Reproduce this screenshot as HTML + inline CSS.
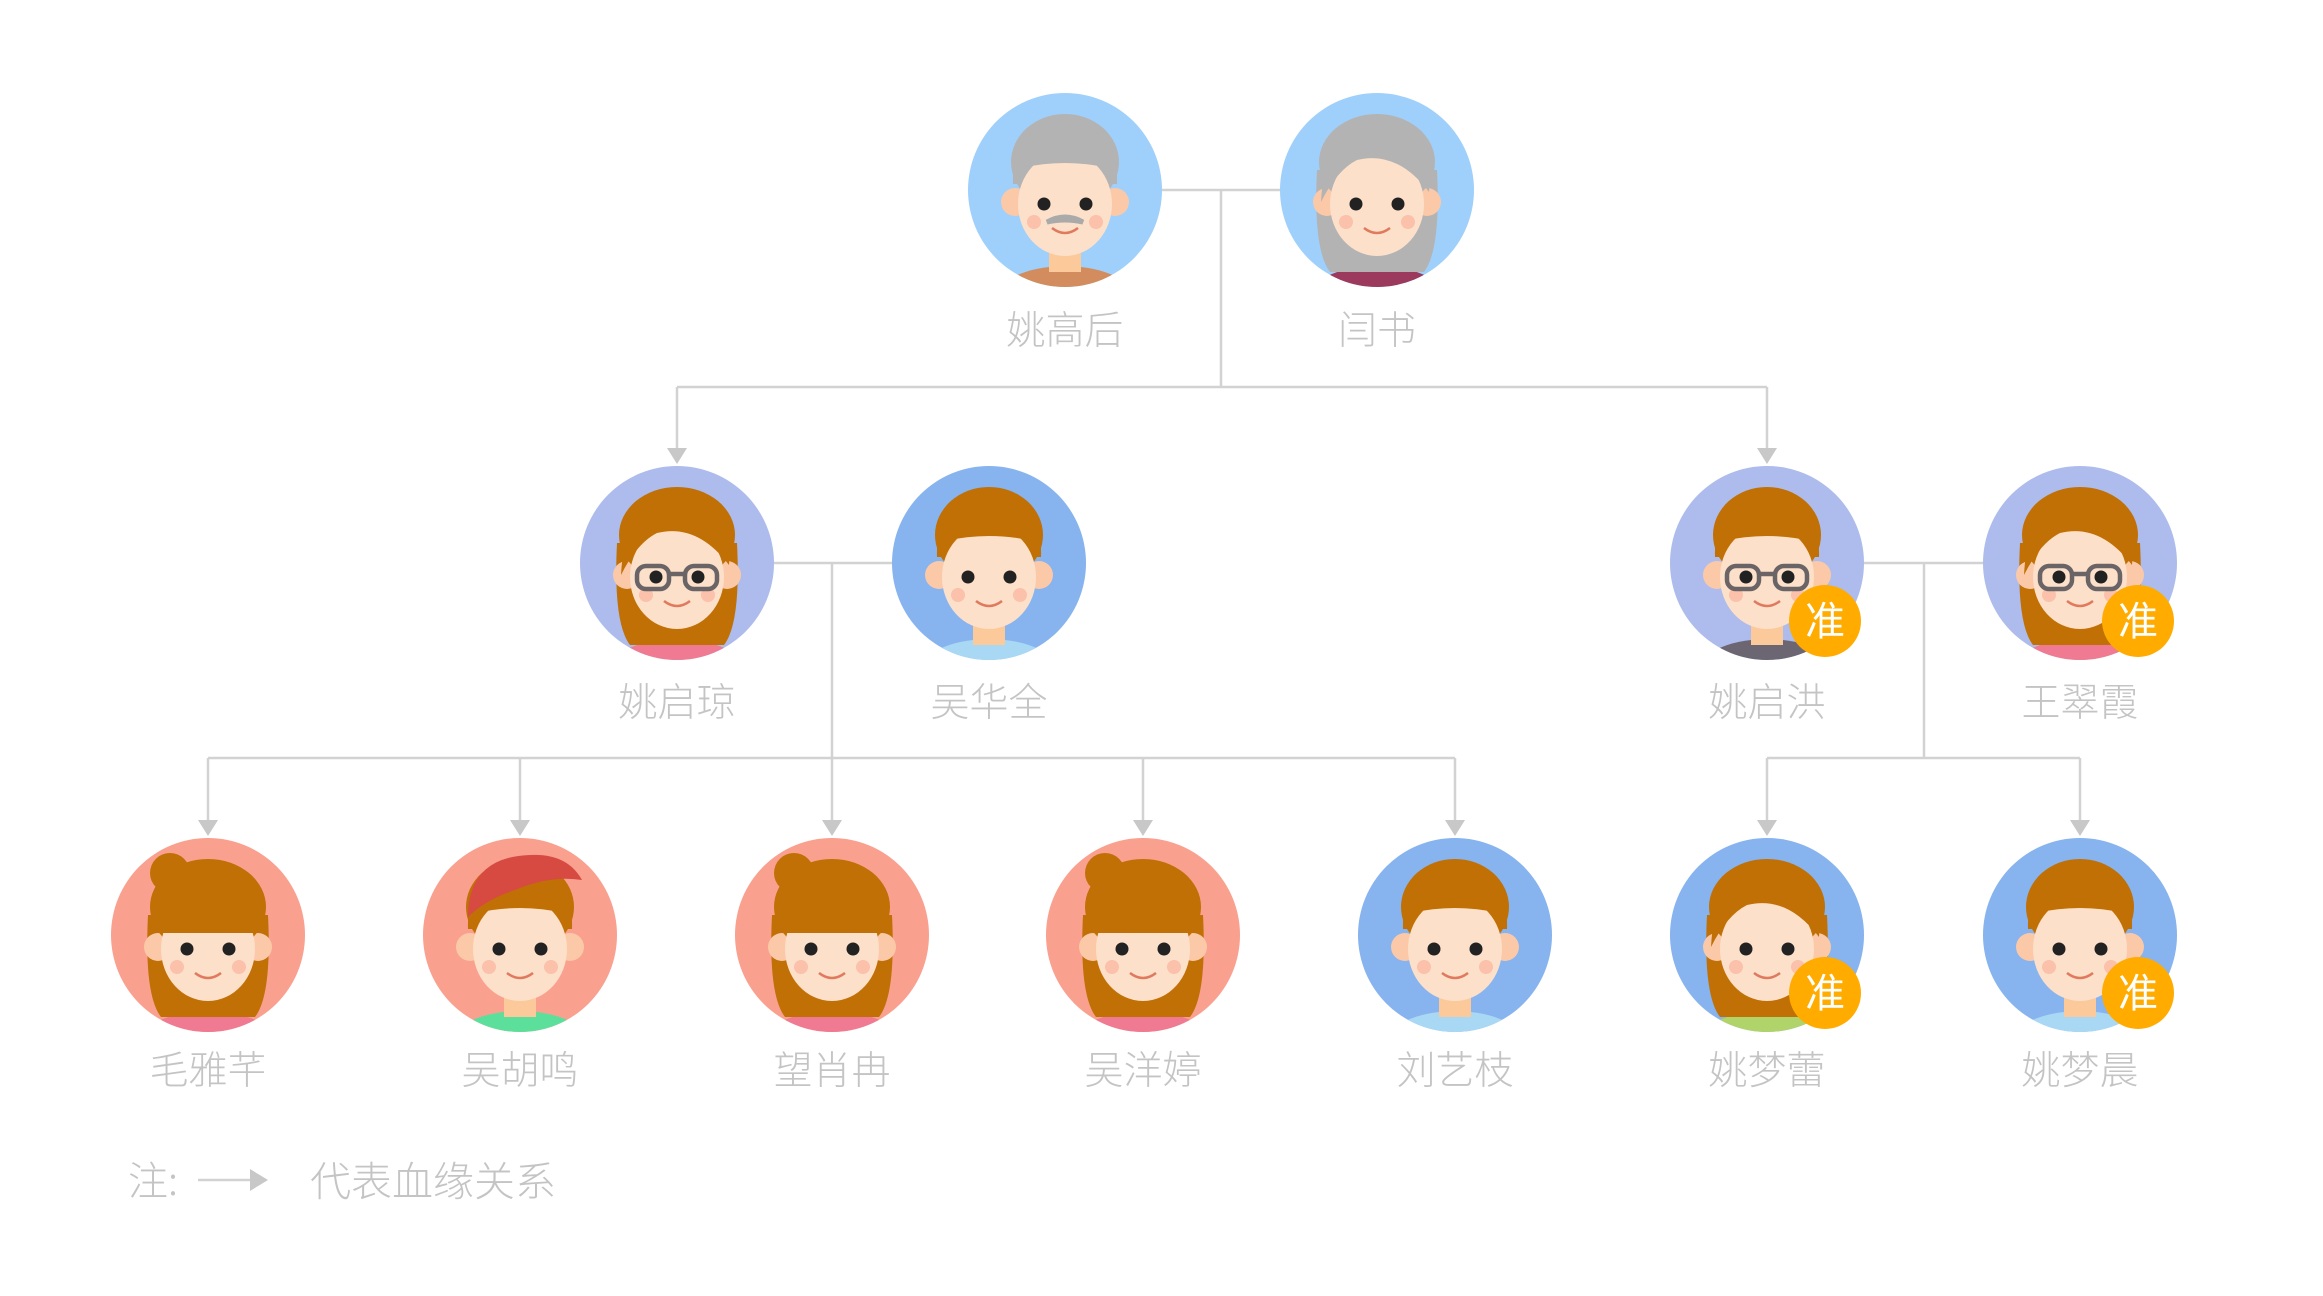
<!DOCTYPE html>
<html><head><meta charset="utf-8">
<style>
html,body{margin:0;padding:0;background:#fff;}
body{width:2323px;height:1296px;position:relative;overflow:hidden;font-family:"Liberation Sans","Noto Sans CJK SC",sans-serif;}
.lbl{position:absolute;width:240px;text-align:center;color:#c4c4c4;font-size:39px;line-height:40px;font-family:"Noto Sans CJK SC",sans-serif;font-weight:300;}
svg{position:absolute;left:0;top:0;}
</style></head><body>
<svg id="s" width="2323" height="1296" viewBox="0 0 2323 1296" xmlns="http://www.w3.org/2000/svg">
<g stroke="#d2d2d2" stroke-width="2.5" fill="none">
<line x1="1160" y1="190" x2="1282" y2="190"/>
<line x1="1221" y1="190" x2="1221" y2="387"/>
<line x1="677" y1="387" x2="1767" y2="387"/>
<line x1="677" y1="387" x2="677" y2="452"/>
<line x1="1767" y1="387" x2="1767" y2="452"/>
<line x1="774" y1="563" x2="892" y2="563"/>
<line x1="832" y1="563" x2="832" y2="758"/>
<line x1="208" y1="758" x2="1455" y2="758"/>
<line x1="1864" y1="563" x2="1983" y2="563"/>
<line x1="1924" y1="563" x2="1924" y2="758"/>
<line x1="1767" y1="758" x2="2080" y2="758"/>
<line x1="208" y1="758" x2="208" y2="824"/>
<line x1="520" y1="758" x2="520" y2="824"/>
<line x1="832" y1="758" x2="832" y2="824"/>
<line x1="1143" y1="758" x2="1143" y2="824"/>
<line x1="1455" y1="758" x2="1455" y2="824"/>
<line x1="1767" y1="758" x2="1767" y2="824"/>
<line x1="2080" y1="758" x2="2080" y2="824"/>
<line x1="198" y1="1180" x2="252" y2="1180"/>
</g>
<g fill="#c8c8c8">
<polygon points="667,448 687,448 677,464"/>
<polygon points="1757,448 1777,448 1767,464"/>
<polygon points="198,820 218,820 208,836"/>
<polygon points="510,820 530,820 520,836"/>
<polygon points="822,820 842,820 832,836"/>
<polygon points="1133,820 1153,820 1143,836"/>
<polygon points="1445,820 1465,820 1455,836"/>
<polygon points="1757,820 1777,820 1767,836"/>
<polygon points="2070,820 2090,820 2080,836"/>
<polygon points="250,1169 268,1180 250,1191"/>
</g>
<g id="av"></g>
</svg>

<div class="lbl" style="left:945px;top:308px">姚高后</div>
<div class="lbl" style="left:1257px;top:308px">闫书</div>
<div class="lbl" style="left:557px;top:680px">姚启琼</div>
<div class="lbl" style="left:869px;top:680px">吴华全</div>
<div class="lbl" style="left:1647px;top:680px">姚启洪</div>
<div class="lbl" style="left:1960px;top:680px">王翠霞</div>
<div class="lbl" style="left:88px;top:1048px">毛雅芊</div>
<div class="lbl" style="left:400px;top:1048px">吴胡鸣</div>
<div class="lbl" style="left:712px;top:1048px">望肖冉</div>
<div class="lbl" style="left:1023px;top:1048px">吴洋婷</div>
<div class="lbl" style="left:1335px;top:1048px">刘艺枝</div>
<div class="lbl" style="left:1647px;top:1048px">姚梦蕾</div>
<div class="lbl" style="left:1960px;top:1048px">姚梦晨</div>
<div class="lbl" style="left:128px;top:1158px;width:60px;text-align:left;font-size:40px;">注:</div>
<div class="lbl" style="left:310px;top:1158px;width:270px;text-align:left;font-size:41px;">代表血缘关系</div>

<script>
var NS="http://www.w3.org/2000/svg";
var g=document.getElementById('av');
var n=0;
function av(cx,cy,o){
  n++;
  var id='c'+n, s='';
  var hair=o.hair||'#c07005', skin='#fde0c9';
  s+='<defs><clipPath id="'+id+'"><circle cx="0" cy="0" r="97"/></clipPath></defs>';
  s+='<circle r="97" fill="'+o.bg+'"/>';
  s+='<g clip-path="url(#'+id+')">';
  s+='<ellipse cx="0" cy="112" rx="72" ry="36" fill="'+o.shirt+'"/>';
  s+='<rect x="-16" y="48" width="32" height="34" fill="#fbc99a"/>';
  if(o.type=='girl'||o.type=='woman'){
    s+='<path d="M-60,-20 Q-64,60 -47,82 L47,82 Q64,60 60,-20 Z" fill="'+hair+'"/>';
  }
  if(o.bun){s+='<circle cx="-38" cy="-62" r="20" fill="'+hair+'"/>';}
  s+='<circle cx="-50" cy="12" r="14" fill="#fbc9a8"/><circle cx="50" cy="12" r="14" fill="#fbc9a8"/>';
  s+='<ellipse cx="0" cy="-28" rx="'+(o.type=='boy'||o.type=='man'?54:58)+'" ry="48" fill="'+hair+'"/>';
  s+='<ellipse cx="0" cy="14" rx="47" ry="52" fill="'+skin+'"/>';
  if(o.type=='boy'||o.type=='man'){
    s+='<path d="M-52,-6 Q-54,-66 0,-70 Q54,-66 52,-6 L46,-6 L44,-22 Q0,-32 -44,-22 L-46,-6 Z" fill="'+hair+'"/>';
  } else if(o.type=='girl'){
    s+='<path d="M-54,-2 Q-56,-72 0,-74 Q56,-72 54,-2 L-54,-2 Z" fill="'+hair+'"/>';
  } else {
    s+='<path d="M-56,12 Q-52,-68 5,-70 Q58,-64 52,2 Q20,-40 -20,-30 Q-40,-20 -56,12 Z" fill="'+hair+'"/>';
  }
  if(o.cap){s+='<path d="M-52,-18 Q-52,-78 10,-80 Q47,-82 62,-55 Q30,-60 -5,-45 Q-35,-35 -52,-18 Z" fill="#d64a42"/>';}
  s+='<circle cx="-21" cy="14" r="6.5" fill="#222"/><circle cx="21" cy="14" r="6.5" fill="#222"/>';
  s+='<circle cx="-31" cy="32" r="7" fill="#fbc1aa"/><circle cx="31" cy="32" r="7" fill="#fbc1aa"/>';
  s+='<path d="M-13,38 Q0,48 13,38" stroke="#e07a5f" stroke-width="2.5" fill="none"/>';
  if(o.mus){s+='<path d="M-18,32 Q0,22 18,32 Q0,28 -18,32 Z" fill="#aaa" stroke="#aaa" stroke-width="5"/>';}
  if(o.glasses){s+='<g stroke="#6a6466" stroke-width="4.5" fill="none"><rect x="-40" y="3" width="32" height="23" rx="9"/><rect x="8" y="3" width="32" height="23" rx="9"/><line x1="-8" y1="11" x2="8" y2="11"/></g>';}
  s+='</g>';
  if(o.badge){s+='<circle cx="58" cy="58" r="36" fill="#ffab00"/><text x="58" y="72" text-anchor="middle" font-size="40" fill="#fff" font-family="Noto Sans CJK SC,sans-serif">准</text>';}
  var e=document.createElementNS(NS,'g');
  e.setAttribute('transform','translate('+cx+','+cy+')');
  e.innerHTML=s;g.appendChild(e);
}
av(1065,190,{bg:'#9fd0fb',hair:'#b3b3b3',shirt:'#d38c5e',type:'man',mus:1});
av(1377,190,{bg:'#9fd0fb',hair:'#b3b3b3',shirt:'#9c3a5e',type:'woman'});
av(677,563,{bg:'#adbcec',shirt:'#ef7a91',type:'woman',glasses:1});
av(989,563,{bg:'#87b3ee',shirt:'#a9d8f5',type:'boy'});
av(1767,563,{bg:'#adbcec',shirt:'#6c6672',type:'man',glasses:1,badge:1});
av(2080,563,{bg:'#adbcec',shirt:'#ef7a91',type:'woman',glasses:1,badge:1});
av(208,935,{bg:'#f9a08f',shirt:'#ef7a91',type:'girl',bun:1});
av(520,935,{bg:'#f9a08f',shirt:'#5ddf9c',type:'boy',cap:1});
av(832,935,{bg:'#f9a08f',shirt:'#ef7a91',type:'girl',bun:1});
av(1143,935,{bg:'#f9a08f',shirt:'#ef7a91',type:'girl',bun:1});
av(1455,935,{bg:'#87b3ee',shirt:'#a9d8f5',type:'boy'});
av(1767,935,{bg:'#87b3ee',shirt:'#b0d36a',type:'woman',badge:1});
av(2080,935,{bg:'#87b3ee',shirt:'#a9d8f5',type:'boy',badge:1});
</script>
</body></html>
